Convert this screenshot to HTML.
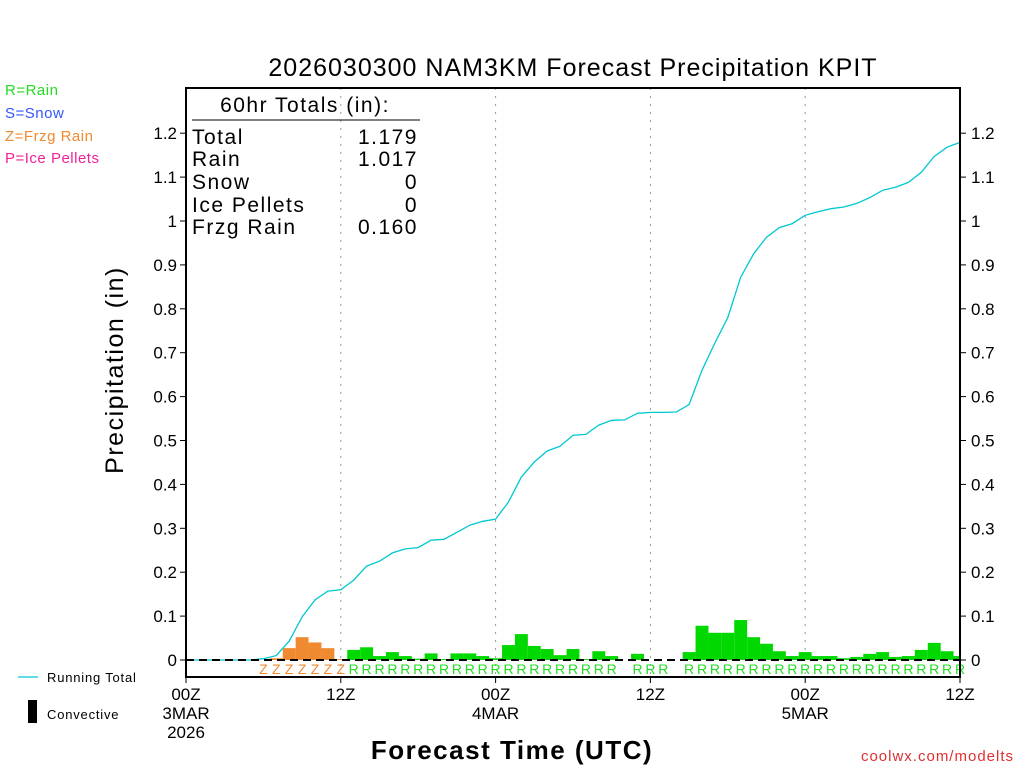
<!DOCTYPE html>
<html><head><meta charset="utf-8"><style>
body{margin:0;background:#fff}
svg text{font-family:"Liberation Sans",sans-serif}
</style></head><body>
<svg id="c" width="1024" height="768" xmlns="http://www.w3.org/2000/svg">
<rect width="1024" height="768" fill="#fff"/>
<text x="573" y="76" font-size="25" text-anchor="middle" fill="#000" letter-spacing="1">2026030300 NAM3KM Forecast Precipitation KPIT</text>
<g font-size="15" letter-spacing="0.5">
<text x="5" y="95" fill="#22dd22">R=Rain</text>
<text x="5" y="118" fill="#3355ff">S=Snow</text>
<text x="5" y="141" fill="#f08a30">Z=Frzg Rain</text>
<text x="5" y="163" fill="#ee2299">P=Ice Pellets</text>
</g>
<g font-size="13" letter-spacing="0.8">
<line x1="18" y1="677" x2="38" y2="677" stroke="#00c8d0" stroke-width="1.2"/>
<text x="47" y="682" fill="#000">Running Total</text>
<rect x="28" y="700" width="9" height="23" fill="#000"/>
<text x="47" y="719" fill="#000">Convective</text>
</g>
<text transform="translate(123,370) rotate(-90)" font-size="25" text-anchor="middle" letter-spacing="1.5">Precipitation (in)</text>
<text x="512" y="759" font-size="26" text-anchor="middle" font-weight="bold" letter-spacing="1.5">Forecast Time (UTC)</text>
<text x="1014" y="761" font-size="15" text-anchor="end" fill="#e03030" letter-spacing="1">coolwx.com/modelts</text>
<g id="grid"></g><g id="bars"></g><g id="line"></g><g id="ptype" font-size="14"></g><g id="axes"></g>
<g font-size="21" fill="#000" letter-spacing="1.5">
<text x="305" y="112" text-anchor="middle">60hr Totals (in):</text>
<line x1="192" y1="120" x2="420" y2="120" stroke="#000" stroke-width="1"/>
<text x="192" y="144">Total</text><text x="418" y="144" text-anchor="end">1.179</text>
<text x="192" y="166">Rain</text><text x="418" y="166" text-anchor="end">1.017</text>
<text x="192" y="189">Snow</text><text x="418" y="189" text-anchor="end">0</text>
<text x="192" y="212">Ice Pellets</text><text x="418" y="212" text-anchor="end">0</text>
<text x="192" y="234">Frzg Rain</text><text x="418" y="234" text-anchor="end">0.160</text>
</g>
</svg>
<script>
const yTicks=[0,0.1,0.2,0.3,0.4,0.5,0.6,0.7,0.8,0.9,1,1.1,1.2];
const xTickHours=[0,12,24,36,48,60];
const xTickLabels=["00Z\n3MAR\n2026","12Z","00Z\n4MAR","12Z","00Z\n5MAR","12Z"];
const hourlyPrecip=[0,0,0,0,0,0,0.004,0.027,0.052,0.040,0.027,0.002,0.023,0.029,0.009,0.018,0.009,0.003,0.015,0.002,0.015,0.015,0.009,0.004,0.034,0.059,0.032,0.025,0.011,0.025,0.002,0.020,0.009,0,0.014,0,0,0,0.018,0.078,0.062,0.062,0.091,0.052,0.037,0.020,0.009,0.018,0.009,0.009,0.004,0.007,0.014,0.018,0.007,0.009,0.023,0.039,0.020,0.009];
const ptype="      ZZZZZZZRRRRRRRRRRRRRRRRRRRRR RRR RRRRRRRRRRRRRRRRRRRRRR";
const runningTotal=[0,0,0,0,0,0,0.003,0.01,0.043,0.098,0.137,0.157,0.16,0.182,0.214,0.225,0.244,0.253,0.256,0.273,0.275,0.291,0.307,0.316,0.321,0.36,0.417,0.451,0.476,0.487,0.512,0.514,0.535,0.546,0.547,0.562,0.564,0.564,0.565,0.582,0.66,0.722,0.78,0.872,0.925,0.963,0.985,0.994,1.013,1.021,1.028,1.032,1.04,1.053,1.07,1.077,1.088,1.111,1.147,1.168,1.179];
const X0=186,X1=960,Y0=660,PY=439,TOP=88,BOT=677;
const xs=h=>X0+(X1-X0)*h/60, ys=v=>Y0-v*PY;
const NS="http://www.w3.org/2000/svg";
function mk(t,a,p){const e=document.createElementNS(NS,t);for(const k in a)e.setAttribute(k,a[k]);p.appendChild(e);return e;}
const grid=document.getElementById('grid'),bars=document.getElementById('bars'),line=document.getElementById('line'),pt=document.getElementById('ptype'),ax=document.getElementById('axes');
xTickHours.slice(1,-1).forEach(h=>{const g=mk('line',{x1:xs(h),x2:xs(h),y1:TOP,y2:BOT,stroke:'#999','stroke-dasharray':'2,6'},grid);

});
const bw=(X1-X0)/60;
hourlyPrecip.forEach((v,i)=>{const h=i+1;if(v<=0)return;const c=ptype[h]==='Z'?'#f08a30':'#00d800';
const x=Math.max(X0,xs(h)-bw/2),x2=Math.min(X1,xs(h)+bw/2);
const r=mk('rect',{x:x,y:ys(v),width:x2-x,height:Y0-ys(v),fill:c},bars);

});
const pts=runningTotal.map((v,h)=>xs(h).toFixed(1)+','+ys(v).toFixed(1)).join(' ');
const pl=mk('polyline',{points:pts,fill:'none',stroke:'#00c8d0','stroke-width':1.3},line);


mk('line',{x1:X0,x2:X1,y1:Y0,y2:Y0,stroke:'#000','stroke-width':2,'stroke-dasharray':'8,5'},ax);
for(let i=0;i<ptype.length;i++){const c=ptype[i];if(c===' ')continue;
const t=mk('text',{x:xs(i),y:674,'text-anchor':'middle',fill:c==='Z'?'#f08a30':'#22dd22'},pt);t.textContent=c;

}
const fr=mk('rect',{x:X0,y:TOP,width:X1-X0,height:BOT-TOP,fill:'none',stroke:'#000','stroke-width':2},ax);


yTicks.forEach(v=>{const y=ys(v);
mk('line',{x1:X0-6,x2:X0,y1:y,y2:y,stroke:'#000'},ax);mk('line',{x1:X1,x2:X1+6,y1:y,y2:y,stroke:'#000'},ax);
const l=mk('text',{x:X0-9,y:y+6,'text-anchor':'end','font-size':17},ax);l.textContent=String(v);


const r=mk('text',{x:X1+11,y:y+6,'font-size':17},ax);r.textContent=String(v);

});
xTickHours.forEach((h,i)=>{const x=xs(h);mk('line',{x1:x,x2:x,y1:BOT,y2:BOT+6,stroke:'#000'},ax);
const t=mk('text',{x:x,y:700,'text-anchor':'middle','font-size':17},ax);


xTickLabels[i].split('\n').forEach((s,j)=>{const ts=mk('tspan',{x:x,dy:j?19:0},t);ts.textContent=s;});});
</script>
</body></html>
